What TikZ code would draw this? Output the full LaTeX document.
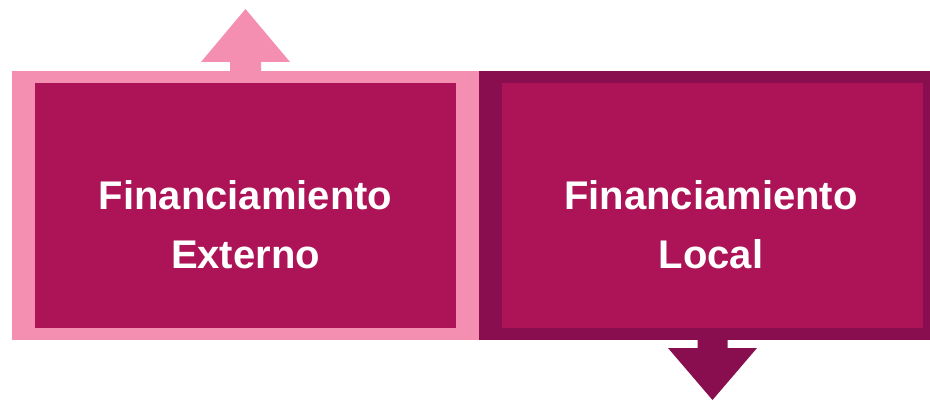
\documentclass[tikz,border=0pt]{standalone}
\usepackage{fontspec}
\setmainfont{Liberation Sans}
\definecolor{pinklight}{HTML}{F48FB1}
\definecolor{pinkmid}{HTML}{AD1457}
\definecolor{pinkdark}{HTML}{880E4F}
\begin{document}
\begin{tikzpicture}[x=1pt, y=1pt,
  outerbox/.style={inner sep=0, outer sep=0, minimum height=269, anchor=south west},
  innerbox/.style={inner sep=0, outer sep=0, fill=pinkmid, minimum width=421, minimum height=245},
  boxtext/.style={text=white, align=center, anchor=base, font=\fontsize{40}{59}\selectfont\bfseries}]
\useasboundingbox (0,0) rectangle (930,400);
% the two frames
\node[outerbox, fill=pinklight, minimum width=467] (ext) at (12,60) {};
\node[outerbox, fill=pinkdark, minimum width=451] (loc) at (479,60) {};
\node[innerbox] (extin) at (245.5,194.5) {};
\node[innerbox] (locin) at (712.5,194.5) {};
\node[boxtext] (exttext) at (245.5,132) {Financiamiento\\Externo};
\node[boxtext] (loctext) at (711,132) {Financiamiento\\Local};
% arrows
\coordinate (up) at (ext.north);
\coordinate (dn) at (locin.center |- loc.south);
\fill[pinklight] ([xshift=-15.5]up) -- ++(0,9) -- ++(-29,0) -- ([yshift=62]up)
  -- ([xshift=44.5,yshift=9]up) -- ++(-29,0) -- ++(0,-9) -- cycle;
\fill[pinkdark] ([xshift=-15]dn) -- ++(0,-8) -- ++(-29.5,0) -- ([yshift=-60]dn)
  -- ([xshift=44.5,yshift=-8]dn) -- ++(-29.5,0) -- ++(0,8) -- cycle;
\end{tikzpicture}
\end{document}
